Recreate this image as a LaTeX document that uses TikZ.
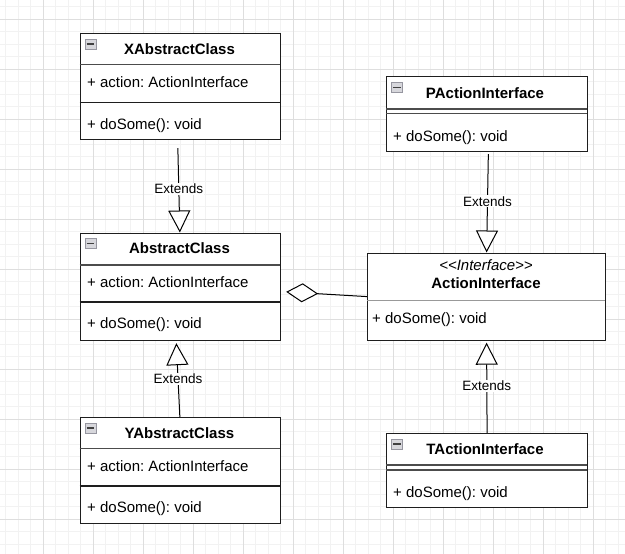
\documentclass[tikz,border=0pt]{standalone}
\usepackage{fontspec}
\setmainfont{Liberation Sans}
\usetikzlibrary{calc,arrows.meta}
\frenchspacing
\definecolor{minorgrid}{RGB}{242,242,242}
\definecolor{majorgrid}{RGB}{222,222,222}
\definecolor{boxline}{RGB}{30,30,30}
\definecolor{iconfill}{RGB}{215,215,220}
\definecolor{iconline}{RGB}{150,150,160}
\newcommand{\umlicon}[3]{%
  \node[iconbox] (#1) at (#2,#3) {};
  \draw[black!75, line width=1.3pt] ($(#1.west)+(2,0)$) -- ($(#1.east)+(-2,0)$);
}
\begin{document}
\begin{tikzpicture}[x=1pt,y=-1pt,
  classbox/.style={draw=boxline, line width=1.2pt, fill=white, inner sep=0pt, anchor=north west},
  title/.style={font=\fontsize{15}{18}\selectfont\bfseries, inner sep=0pt},
  stereo/.style={font=\fontsize{15}{18}\selectfont\itshape, inner sep=0pt},
  member/.style={font=\fontsize{15}{18}\selectfont, inner sep=0pt, anchor=west, text height=10.7pt, text depth=0pt},
  hsep/.style={draw=black!70, line width=1.6pt},
  msep/.style={draw=boxline, line width=1.1pt},
  gsep/.style={draw=black!40, line width=1pt},
  ext/.style={draw=black, line width=1pt, -{Triangle[open, fill=white, length=22pt, width=22pt]}},
  agg/.style={draw=black, line width=1pt, -{Diamond[open, fill=white, length=32pt, width=19pt]}},
  lbl/.style={fill=white, font=\fontsize{13.5}{16}\selectfont, inner sep=1pt},
  iconbox/.style={draw=iconline, fill=iconfill, line width=0.8pt, minimum width=11pt, minimum height=10pt, inner sep=0pt},
]
\useasboundingbox (0,0) rectangle (625,554);
\fill[white] (0,0) rectangle (625,554);
% grid
\foreach \i in {0,...,50} { \draw[minorgrid, line width=1pt] ({5.5+12.5*\i},0) -- ({5.5+12.5*\i},554); }
\foreach \i in {0,...,44} { \draw[minorgrid, line width=1pt] (0,{6.5+12.5*\i}) -- (625,{6.5+12.5*\i}); }
\foreach \i in {0,...,11} { \draw[majorgrid, line width=1pt] ({43+50*\i},0) -- ({43+50*\i},554); }
\foreach \i in {0,...,10} { \draw[majorgrid, line width=1pt] (0,{19+50*\i}) -- (625,{19+50*\i}); }

% ---- XAbstractClass
\node[classbox, minimum width=200.5pt, minimum height=106.5pt] (xc) at (79.5,32.5) {};
\draw[hsep] (79.5,64.5) -- (280,64.5);
\draw[msep] (79.5,102.5) -- (280,102.5);
\umlicon{xi}{90.5}{44}
\node[title] (xt) at (179.5,49) {XAbstractClass};
\node[member] (xa) at (87,82) {+ action: ActionInterface};
\node[member] (xm) at (87,124) {+ doSome(): void};

% ---- AbstractClass
\node[classbox, minimum width=200.5pt, minimum height=107.5pt] (ab) at (79.5,232.5) {};
\draw[hsep] (79.5,265) -- (280,265);
\draw[msep] (79.5,302) -- (280,302);
\umlicon{abi}{90.5}{243.5}
\node[title] (abt) at (179.5,248.5) {AbstractClass};
\node[member] (aba) at (87,282) {+ action: ActionInterface};
\node[member] (abm) at (87,323.5) {+ doSome(): void};

% ---- YAbstractClass
\node[classbox, minimum width=200.5pt, minimum height=106pt] (yc) at (79.5,417) {};
\draw[hsep] (79.5,448.5) -- (280,448.5);
\draw[msep] (79.5,486) -- (280,486);
\umlicon{yi}{90.5}{428}
\node[title] (yt) at (179.5,432.7) {YAbstractClass};
\node[member] (ya) at (87,466) {+ action: ActionInterface};
\node[member] (ym) at (87,507.5) {+ doSome(): void};

% ---- PActionInterface
\node[classbox, minimum width=200.5pt, minimum height=75pt] (pc) at (386,76) {};
\draw[hsep] (386,109) -- (586.5,109);
\draw[hsep] (386,113.5) -- (586.5,113.5);
\umlicon{pi}{397}{87.5}
\node[title] (pt) at (485,92.7) {PActionInterface};
\node[member] (pm) at (393,135.7) {+ doSome(): void};

% ---- TActionInterface
\node[classbox, minimum width=201pt, minimum height=74pt] (tc) at (386,433) {};
\draw[hsep] (386,465) -- (587,465);
\draw[hsep] (386,470) -- (587,470);
\umlicon{ti}{397}{444}
\node[title] (tt) at (485,449) {TActionInterface};
\node[member] (tm) at (393,492.3) {+ doSome(): void};

% ---- ActionInterface
\node[classbox, minimum width=238pt, minimum height=87pt] (ai) at (367,252.5) {};
\draw[gsep] (367,300.5) -- (605,300.5);
\node[stereo] (ais) at (486,265.5) {{<}{<}Interface{>}{>}};
\node[title] (ait) at (486,283.5) {ActionInterface};
\node[member] (aim) at (372,318) {+ doSome(): void};

% ---- connectors
\coordinate (xs) at ($(xc.south)+(-2.5,8)$);
\draw[ext] (xs) -- ($(ab.north)+(-0.5,0)$) node[lbl, pos=0.48] (l1) {Extends};

\draw[ext] ($(yc.north)+(-0.5,0)$) -- ($(ab.south)+(-4,2)$) node[lbl, pos=0.515] (l2) {Extends};

\coordinate (ps) at ($(pc.south)+(1.5,2)$);
\draw[ext] (ps) -- (ai.north) node[lbl, pos=0.48] (l3) {Extends};

\draw[ext] (tc.north) -- ($(ai.south)+(0,2)$) node[lbl, pos=0.52] (l4) {Extends};

\draw[agg] (ai.west) -- ($(ab.east)+(5,5)$);
\end{tikzpicture}
\end{document}
